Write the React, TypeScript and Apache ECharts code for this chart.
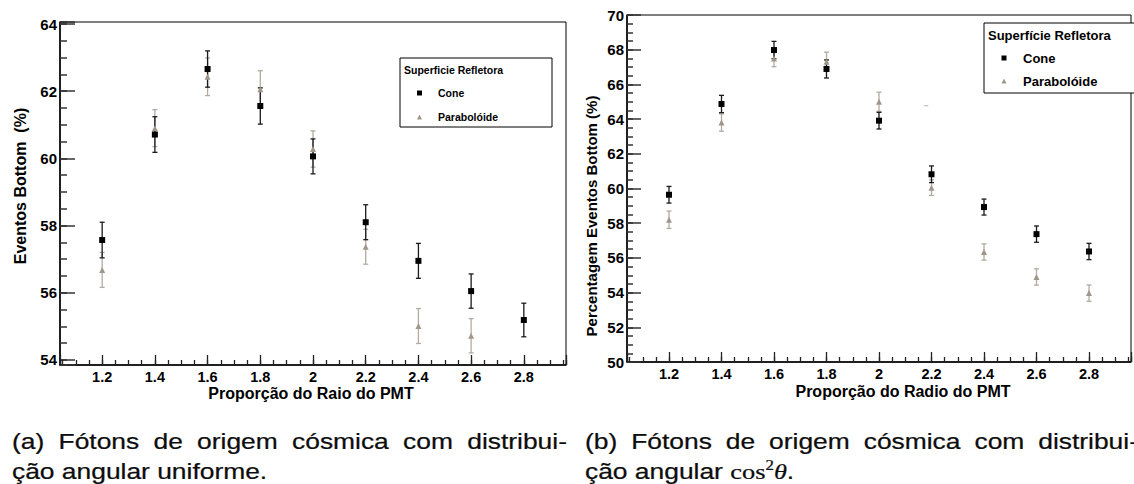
import React, { useEffect, useRef } from "react";
import * as echarts from "echarts";

// ---------- data ----------
const ratios = [1.2, 1.4, 1.6, 1.8, 2.0, 2.2, 2.4, 2.6, 2.8];

// (a) uniform angular distribution
const coneA = [57.57, 60.71, 62.66, 61.56, 60.06, 58.1, 56.95, 56.05, 55.19];
const coneAErr = [0.53, 0.53, 0.54, 0.54, 0.52, 0.52, 0.52, 0.51, 0.5];
const parabA = [56.68, 60.9, 62.43, 62.06, 60.28, 57.37, 55.01, 54.72, null];
const parabAErr = [0.52, 0.55, 0.56, 0.55, 0.54, 0.52, 0.52, 0.51, null];

// (b) cos^2 angular distribution
const coneB = [59.64, 64.87, 67.98, 66.89, 63.91, 60.82, 58.93, 57.37, 56.37];
const coneBErr = [0.48, 0.5, 0.5, 0.52, 0.48, 0.48, 0.46, 0.47, 0.47];
const parabB = [58.2, 63.8, 67.5, 67.31, 65.0, 60.05, 56.34, 54.9, 53.97];
const parabBErr = [0.5, 0.5, 0.48, 0.55, 0.55, 0.45, 0.47, 0.47, 0.47];

// small stray mark in panel (b)
const strayX = [2.18];
const strayY = [64.77];

const xRange = [1.04, 2.96];
const yRangeA = [53.85, 64.06];
const yRangeB = [50, 70];

const seriesNames = ["Cone", "Parabolóide"];
const legendTitleA = "Superficie Refletora";
const legendTitleB = "Superfície Refletora";
const xTitleA = "Proporção do Raio do PMT";
const xTitleB = "Proporção do Radio do PMT";
const yTitleA = "Eventos Bottom  (%)";
const yTitleB = "Percentagem Eventos Bottom (%)";
const captionA1 = ["(a)", "Fótons", "de", "origem", "cósmica", "com", "distribui-"];
const captionB1 = ["(b)", "Fótons", "de", "origem", "cósmica", "com", "distribui-"];
const captionA2 = "ção angular uniforme.";

// ---------- styles ----------
const SANS = '"Liberation Sans", Arial, Helvetica, sans-serif';
const SERIF = '"Liberation Serif", "Times New Roman", serif';
const CONE = "#000000";
const PARAB = "#a0978b";
const PARAB_ERR = "#b3aba0";
const CONE_ERR = "#1a1a1a";
const CAPTION = "#0d0d0d";

function isMult(v: number, step: number) {
  const k = v / step;
  return Math.abs(k - Math.round(k)) < 1e-6;
}

function makeX(gridIndex: number, major: boolean) {
  return {
    type: "value",
    gridIndex,
    min: xRange[0],
    max: xRange[1],
    splitNumber: major ? 10 : 40,
    position: "bottom",
    axisLine: { show: major, onZero: false, lineStyle: { color: "#000", width: 1.5 } },
    axisTick: { show: true, inside: true, length: major ? 10 : 5, lineStyle: { color: "#222", width: 1.3 } },
    splitLine: { show: false },
    axisLabel: {
      show: major,
      margin: 5,
      fontFamily: SANS,
      fontWeight: "bold",
      fontSize: 14.5,
      lineHeight: 13,
      color: "#000",
      formatter: (v: number) => (isMult(v, 0.2) ? String(Math.round(v * 10) / 10) : ""),
    },
  };
}

function makeY(gridIndex: number, range: number[], major: boolean, majorLen: number, minorLen: number) {
  const span = range[1] - range[0];
  return {
    type: "value",
    gridIndex,
    min: range[0],
    max: range[1],
    splitNumber: major ? Math.round(span / 2) : Math.round(span / 0.5),
    position: "left",
    axisLine: { show: major, onZero: false, lineStyle: { color: "#000", width: 1.5 } },
    axisTick: { show: true, inside: true, length: major ? majorLen : minorLen, lineStyle: { color: "#333", width: 1.5 } },
    splitLine: { show: false },
    axisLabel: {
      show: major,
      margin: 3,
      fontFamily: SANS,
      fontWeight: "bold",
      fontSize: 15,
      color: "#000",
      formatter: (v: number) => (isMult(v, 2) ? String(Math.round(v)) : ""),
    },
  };
}

function errorSeries(axisIdx: number, vals: (number | null)[], errs: (number | null)[], color: string) {
  const data = ratios
    .map((x, i) => (vals[i] == null ? null : [x, (vals[i] as number) - (errs[i] as number), (vals[i] as number) + (errs[i] as number)]))
    .filter((d) => d != null);
  return {
    type: "custom",
    xAxisIndex: axisIdx,
    yAxisIndex: axisIdx,
    data,
    silent: true,
    z: 2,
    renderItem: (params: any, api: any) => {
      const x = api.value(0);
      const p1 = api.coord([x, api.value(1)]);
      const p2 = api.coord([x, api.value(2)]);
      const cap = 2.5;
      const style = { stroke: color, lineWidth: 1.3 };
      return {
        type: "group",
        children: [
          { type: "line", shape: { x1: p1[0], y1: p1[1], x2: p2[0], y2: p2[1] }, style },
          { type: "line", shape: { x1: p1[0] - cap, y1: p1[1], x2: p1[0] + cap, y2: p1[1] }, style },
          { type: "line", shape: { x1: p2[0] - cap, y1: p2[1], x2: p2[0] + cap, y2: p2[1] }, style },
        ],
      };
    },
  };
}

function pointSeries(axisIdx: number, name: string, vals: (number | null)[], symbol: string, size: number, color: string, z: number) {
  return {
    type: "scatter",
    name,
    xAxisIndex: axisIdx,
    yAxisIndex: axisIdx,
    data: ratios.map((x, i) => [x, vals[i]]).filter((d) => d[1] != null),
    symbol,
    symbolSize: size,
    itemStyle: { color, opacity: 1 },
    z,
    silent: true,
  };
}

function legendBox(x: number, y: number, w: number, h: number, title: string, fs: number, titleDY: number, row1: number, row2: number, mx: number, tx: number, msize: number) {
  const s = msize;
  return [
    { type: "rect", shape: { x, y, width: w, height: h }, style: { fill: "#fff", stroke: "#000", lineWidth: 1 }, z: 10 },
    { type: "text", x: x + 4, y: y + titleDY, style: { text: title, font: `bold ${fs}px ${SANS}`, fill: "#000", verticalAlign: "middle", align: "left" }, z: 11 },
    { type: "rect", shape: { x: mx - s / 2, y: row1 - s / 2, width: s, height: s }, style: { fill: CONE }, z: 11 },
    { type: "text", x: tx, y: row1, style: { text: seriesNames[0], font: `bold ${fs}px ${SANS}`, fill: "#000", verticalAlign: "middle" }, z: 11 },
    {
      type: "polygon",
      shape: { points: [[mx, row2 - s / 2], [mx + s / 2, row2 + s / 2], [mx - s / 2, row2 + s / 2]] },
      style: { fill: PARAB },
      z: 11,
    },
    { type: "text", x: tx, y: row2, style: { text: seriesNames[1], font: `bold ${fs}px ${SANS}`, fill: "#000", verticalAlign: "middle" }, z: 11 },
  ];
}

function justified(words: string[], x0: number, x1: number, y: number, fs: number, sx: number) {
  const canvas = document.createElement("canvas");
  const ctx = canvas.getContext("2d") as CanvasRenderingContext2D;
  ctx.font = `${fs}px "Liberation Sans"`;
  const widths = words.map((w) => ctx.measureText(w).width * sx);
  const total = widths.reduce((a, b) => a + b, 0);
  const gap = (x1 - x0 - total) / (words.length - 1);
  let x = x0;
  return words.map((w, i) => {
    const el = {
      type: "text",
      x,
      y,
      scaleX: sx,
      style: { text: w, font: `${fs}px ${SANS}`, fill: CAPTION, stroke: CAPTION, lineWidth: 0.25, verticalAlign: "middle", align: "left" },
    };
    x += widths[i] + gap;
    return el;
  });
}

export default function App() {
  const ref = useRef<HTMLDivElement>(null);

  useEffect(() => {
    if (!ref.current) return;
    const chart = echarts.init(ref.current, undefined, { renderer: "svg" });
    const capFs = 22;
    const capSx = 1.2;

    const option: any = {
      animation: false,
      backgroundColor: "#ffffff",
      grid: [
        { left: 60, top: 22, width: 506, height: 343, show: true, borderColor: "#000", borderWidth: 1, backgroundColor: "transparent" },
        { left: 627, top: 15, width: 512, height: 347, show: true, borderColor: "#000", borderWidth: 1, backgroundColor: "transparent" },
      ],
      xAxis: [makeX(0, true), makeX(1, true), makeX(0, false), makeX(1, false)],
      yAxis: [
        makeY(0, yRangeA, true, 15, 7),
        makeY(1, yRangeB, true, 14, 6),
        makeY(0, yRangeA, false, 15, 7),
        makeY(1, yRangeB, false, 14, 6),
      ],
      series: [
        errorSeries(0, parabA, parabAErr, PARAB_ERR),
        errorSeries(0, coneA, coneAErr, CONE_ERR),
        pointSeries(0, "Parabolóide", parabA, "triangle", 6, PARAB, 3),
        pointSeries(0, "Cone", coneA, "rect", 6, CONE, 4),
        errorSeries(1, parabB, parabBErr, PARAB_ERR),
        errorSeries(1, coneB, coneBErr, CONE_ERR),
        pointSeries(1, "Parabolóide", parabB, "triangle", 6, PARAB, 3),
        pointSeries(1, "Cone", coneB, "rect", 6, CONE, 4),
        {
          type: "scatter",
          xAxisIndex: 1,
          yAxisIndex: 1,
          data: strayX.map((x, i) => [x, strayY[i]]),
          symbol: "rect",
          symbolSize: [4, 1],
          itemStyle: { color: PARAB },
          silent: true,
        },
      ],
      graphic: [
        // axis titles
        { type: "text", x: 20, y: 186, rotation: Math.PI / 2, style: { text: yTitleA, font: `bold 16px ${SANS}`, fill: "#000", align: "center", verticalAlign: "middle" } },
        { type: "text", x: 311, y: 393, style: { text: xTitleA, font: `bold 16px ${SANS}`, fill: "#000", align: "center", verticalAlign: "middle", lineHeight: 14 } },
        { type: "text", x: 591, y: 216, rotation: Math.PI / 2, style: { text: yTitleB, font: `bold 15px ${SANS}`, fill: "#000", align: "center", verticalAlign: "middle" } },
        { type: "text", x: 903, y: 391, style: { text: xTitleB, font: `bold 16px ${SANS}`, fill: "#000", align: "center", verticalAlign: "middle", lineHeight: 14 } },
        // legends
        ...legendBox(400, 58, 152, 69, legendTitleA, 10.5, 12, 93, 117, 419.5, 438, 5),
        ...legendBox(984, 23, 170, 70, legendTitleB, 13, 12, 58, 81, 1004, 1023, 5),
        // captions
        ...justified(captionA1, 12, 567, 441, capFs, capSx),
        { type: "text", x: 12, y: 471, scaleX: capSx, style: { text: captionA2, font: `${capFs}px ${SANS}`, fill: CAPTION, stroke: CAPTION, lineWidth: 0.25, verticalAlign: "middle" } },
        ...justified(captionB1, 585, 1138, 441, capFs, capSx),
        {
          type: "text",
          x: 585,
          y: 471,
          scaleX: capSx,
          style: {
            text: "ção angular {m|cos}{s|2}{t|θ}.",
            font: `${capFs}px ${SANS}`,
            fill: CAPTION,
            stroke: CAPTION,
            lineWidth: 0.25,
            verticalAlign: "middle",
            rich: {
              m: { fontFamily: SERIF, fontSize: 22, fill: CAPTION, lineHeight: 26 },
              s: { fontFamily: SERIF, fontSize: 14, fill: CAPTION, verticalAlign: "top", lineHeight: 26 },
              t: { fontFamily: SERIF, fontSize: 22, fontStyle: "italic", fill: CAPTION, lineHeight: 26 },
            },
          },
        },
      ],
    };
    chart.setOption(option);
    return () => chart.dispose();
  }, []);

  return (
    <div
      ref={ref}
      style={{ position: "fixed", left: 0, top: 0, width: 1134, height: 484, background: "#fff" }}
    />
  );
}
